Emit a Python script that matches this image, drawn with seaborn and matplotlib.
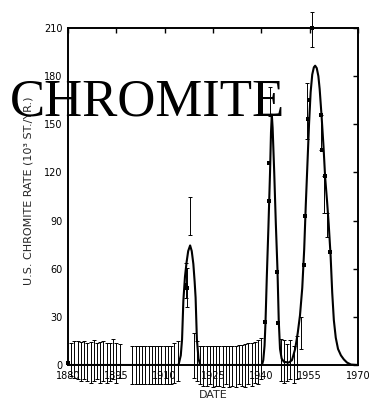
import matplotlib
matplotlib.use("Agg")
import matplotlib.pyplot as plt
import seaborn as sns
import pandas as pd
import numpy as np

# Smoothed production-rate curve (thousand short tons per year)
curve_year = [1880, 1914.3, 1915.0, 1915.4, 1915.8, 1916.3, 1916.8, 1917.3, 1917.9,
              1918.4, 1918.9, 1919.3, 1919.6, 1920.0, 1920.5, 1921.0,
              1940.2, 1940.6, 1941.0, 1941.3, 1941.7, 1942.2, 1942.7, 1943.0, 1943.25,
              1943.5, 1944.0, 1944.5, 1945.0, 1945.4, 1945.8, 1946.3, 1947.0, 1948.5,
              1949.5, 1950.5, 1951.3, 1952.0, 1952.7, 1953.3, 1953.8, 1954.3, 1954.8,
              1955.3, 1955.8, 1956.3, 1956.7, 1957.2, 1957.7, 1958.1, 1958.7, 1959.3,
              1959.8, 1960.4, 1960.9, 1961.5, 1962.0, 1962.5, 1963.1, 1963.8, 1964.7,
              1965.6, 1966.6, 1967.8, 1970]
curve_rate = [0, 0, 6, 16, 40, 55, 64, 71, 74.5,
              71, 63, 52, 42, 16, 4, 0,
              0, 3, 12, 27, 55, 86, 120, 145, 156,
              148, 120, 88, 60, 28, 10, 4, 2, 1.5,
              3, 10, 20, 31, 48, 72, 100, 125, 150,
              170, 181, 185.5, 186.5, 185, 180, 172, 155, 136,
              117, 102, 88, 68, 45, 28, 17, 10, 6,
              3.5, 1.5, 0.3, 0]

# Observed rates with uncertainty ranges (low / high)
err_year = [1881, 1882, 1883, 1884, 1885, 1886, 1887, 1888, 1889, 1890, 1891, 1892,
            1893, 1894, 1895, 1896,
            1900, 1901, 1902, 1903, 1904, 1905, 1906, 1907, 1908, 1909, 1910, 1911,
            1912, 1913, 1914.2,
            1916.5, 1917.0, 1918.0,
            1919, 1920, 1921, 1922, 1923, 1924, 1925, 1926, 1927, 1928, 1929, 1930,
            1931, 1932, 1933, 1934, 1935, 1936, 1937, 1938, 1939, 1940,
            1942.8,
            1946, 1947, 1948, 1949, 1950, 1951, 1952.2,
            1954.3, 1955.8, 1958.5, 1959.6, 1960.3]
err_low = [-7, -8, -9, -10, -9, -10, -11, -10, -9, -11, -10, -11,
           -10, -9, -11, -8,
           -12, -12, -12, -12, -12, -12, -12, -12, -12, -12, -12, -12,
           -12, -11, -10,
           41.8, 36.4, 81,
           -8, -10, -12, -13, -13, -12, -14, -13, -13, -14, -12, -14,
           -13, -14, -12, -13, -14, -12, -13, -11, -12, -9,
           155,
           -10, -11, -10, -9, -11, -9, 10,
           141, 198, 134, 94.5, 80]
err_high = [14, 15, 15, 14.5, 15, 14, 14.5, 15.5, 13.5, 14.5, 15, 13.5,
            14, 16, 14, 13,
            12, 12, 12, 12, 12, 12, 12, 12, 12, 12, 12, 12,
            12, 13.5, 15,
            63.6, 60.5, 105,
            20, 15, 12, 12, 12, 12, 12, 12, 12, 12, 12, 12,
            12, 12, 12.5, 12.5, 13, 13.5, 14, 14.5, 15.5, 17,
            173,
            16, 15.5, 13, 15.5, 12, 18, 30,
            176, 220, 156, 117.5, 95]

# Individual data points marked on the curve
pt_year = [1880, 1916.5, 1917.0, 1941.0, 1942.3, 1942.5, 1944.9, 1945.3, 1953.3,
           1953.6, 1954.5, 1954.9, 1955.8, 1958.4, 1958.9, 1959.8, 1961.3]
pt_rate = [1, 50, 48, 27, 126, 102, 57.8, 26, 62.4,
           93, 153, 165, 210, 156, 134, 117.5, 70.7]

y_ticks = [0, 30, 60, 90, 120, 150, 180, 210]
x_ticks = [1880, 1895, 1910, 1925, 1940, 1955, 1970]

curve = pd.DataFrame({"year": curve_year, "rate": curve_rate})
points = pd.DataFrame({"year": pt_year, "rate": pt_rate})
err = pd.DataFrame({"year": err_year, "low": err_low, "high": err_high})
err["mid"] = (err["low"] + err["high"]) / 2
err["half"] = (err["high"] - err["low"]) / 2

sns.set_style("white")
plt.rcParams["font.family"] = ["DejaVu Sans"]

fig = plt.figure(figsize=(3.72, 4.0), dpi=100)
ax = fig.add_axes([68 / 372, 35 / 400, 290 / 372, 337 / 400])

sns.lineplot(data=curve, x="year", y="rate", color="black", linewidth=1.5,
             ax=ax, sort=False)

eb = ax.errorbar(err["year"], err["mid"], yerr=err["half"], fmt="none",
                 ecolor="black", elinewidth=0.7, capsize=1.6, capthick=0.7)
for child in eb.get_children():
    child.set_clip_on(False)

sns.scatterplot(data=points, x="year", y="rate", color="black", marker="s",
                s=5, linewidth=0, ax=ax, clip_on=False, zorder=5)

ax.set_xlim(1880, 1970)
ax.set_ylim(0, 210)
ax.set_xticks(x_ticks)
ax.set_yticks(y_ticks)
ax.set_xticklabels([str(t) for t in x_ticks])
ax.set_yticklabels([str(t) for t in y_ticks])
ax.tick_params(direction="in", length=3.5, width=1, colors="black",
               labelsize=7, top=True, right=True, pad=4)
ax.tick_params(axis="x", pad=4)
for s in ax.spines.values():
    s.set_visible(True)
    s.set_color("black")
    s.set_linewidth(1.4)

ax.set_xlabel("DATE", fontsize=8)
ax.set_ylabel("U.S. CHROMITE RATE (10³ ST./YR.)", fontsize=8)
ax.xaxis.set_label_coords(0.5, -0.075)
ax.yaxis.set_label_coords(-0.12, 0.516)

fig.text(10 / 372, 1 - 115 / 400, "CHROMITE", family="Liberation Serif",
         fontsize=38, color="black", ha="left", va="baseline", zorder=10)

fig.savefig("out.png", dpi=100, facecolor="white")
